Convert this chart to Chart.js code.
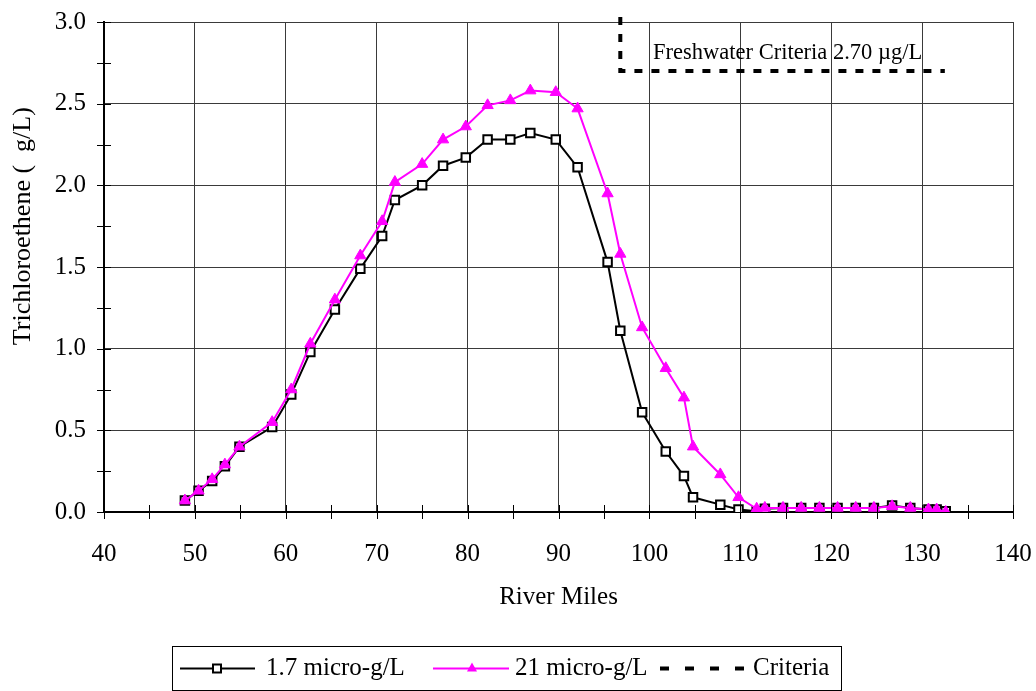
<!DOCTYPE html>
<html>
<head>
<meta charset="utf-8">
<script src="https://cdn.jsdelivr.net/npm/chart.js@4.4.1/dist/chart.umd.min.js"></script>
<style>
html,body{margin:0;padding:0;background:#fff;}
#wrap{width:1036px;height:691px;}
</style>
</head>
<body>
<div id="wrap"><canvas id="c" width="1036" height="691"></canvas></div>
<script>
// ---- data ----
const riverMiles = [48.9, 50.4, 51.9, 53.3, 54.9, 58.5, 60.6, 62.7, 65.4, 68.2, 70.6, 72.0, 75.0, 77.3, 79.8, 82.2, 84.7, 86.9, 89.7, 92.1, 95.4, 96.8, 99.2, 101.8, 103.8, 104.8, 107.8, 109.8, 111.8, 112.7, 114.7, 116.7, 118.7, 120.7, 122.7, 124.7, 126.7, 128.7, 130.7, 131.6, 132.6];
const tce17 = [0.07, 0.13, 0.19, 0.28, 0.40, 0.52, 0.72, 0.98, 1.24, 1.49, 1.69, 1.91, 2.00, 2.12, 2.17, 2.28, 2.28, 2.32, 2.28, 2.11, 1.53, 1.11, 0.61, 0.37, 0.22, 0.09, 0.045, 0.015, 0.005, 0.02, 0.025, 0.025, 0.025, 0.025, 0.025, 0.025, 0.04, 0.025, 0.015, 0.015, 0.005];
const tce21 = [0.07, 0.13, 0.20, 0.29, 0.40, 0.55, 0.75, 1.03, 1.30, 1.57, 1.78, 2.02, 2.13, 2.28, 2.36, 2.49, 2.52, 2.58, 2.57, 2.47, 1.95, 1.58, 1.13, 0.88, 0.70, 0.40, 0.23, 0.09, 0.02, 0.025, 0.025, 0.025, 0.025, 0.025, 0.025, 0.025, 0.035, 0.025, 0.015, 0.015, 0.0];
const criteriaX = [96.8, 96.8, 132.5];
const criteriaY = [3.03, 2.70, 2.70];
const seriesNames = ["1.7 micro-g/L", "21 micro-g/L", "Criteria"];
const criteriaLabel = "Freshwater Criteria 2.70 \u00b5g/L";
const xTitle = "River Miles";
const yTitle = "Trichloroethene (  g/L)";

const FONT = "'Liberation Serif', 'Times New Roman', serif";

const pts = (xs, ys) => xs.map((x, i) => ({x: x, y: ys[i]}));

const noPad = s => { s.paddingLeft = 0; s.paddingRight = 0; s.paddingTop = 0; s.paddingBottom = 0; };

const overlay = {
  id: 'overlay',
  afterDraw(chart) {
    const ctx = chart.ctx;
    const xs = chart.scales.x, ys = chart.scales.y;
    const ca = chart.chartArea;
    ctx.save();
    // crossing tick marks
    ctx.strokeStyle = '#000';
    ctx.lineWidth = 1;
    for (let v = 40; v <= 140; v += 5) {
      const px = Math.round(xs.getPixelForValue(v)) + 0.5;
      ctx.beginPath(); ctx.moveTo(px, ca.bottom - 7); ctx.lineTo(px, ca.bottom + 7); ctx.stroke();
    }
    for (let v = 0; v <= 3.0001; v += 0.25) {
      const py = Math.round(ys.getPixelForValue(v)) + 0.5;
      ctx.beginPath(); ctx.moveTo(ca.left - 7, py); ctx.lineTo(ca.left + 7, py); ctx.stroke();
    }
    // y title
    ctx.fillStyle = '#000';
    ctx.font = "26px " + FONT;
    ctx.textAlign = 'center';
    ctx.textBaseline = 'middle';
    ctx.translate(23, ys.getPixelForValue(1.75));
    ctx.rotate(-Math.PI / 2);
    ctx.fillText(yTitle, 0, 0);
    ctx.restore();

    // criteria annotation
    ctx.save();
    ctx.fillStyle = '#000';
    ctx.font = "22.5px " + FONT;
    ctx.textAlign = 'left';
    ctx.textBaseline = 'middle';
    ctx.fillText(criteriaLabel, xs.getPixelForValue(100.4), ys.getPixelForValue(2.81));
    ctx.restore();

    // legend
    ctx.save();
    const bx = 172.5, by = 646.5, bw = 669, bh = 44;
    ctx.strokeStyle = '#000'; ctx.lineWidth = 1;
    ctx.strokeRect(bx, by, bw, bh);
    const cy = by + bh / 2;
    ctx.font = "25px " + FONT;
    ctx.textBaseline = 'middle';
    ctx.textAlign = 'left';
    ctx.fillStyle = '#000';
    // item 1
    ctx.lineWidth = 2; ctx.strokeStyle = '#000';
    ctx.beginPath(); ctx.moveTo(180, cy); ctx.lineTo(255, cy); ctx.stroke();
    ctx.fillStyle = '#fff'; ctx.fillRect(213, cy - 4, 8, 8);
    ctx.strokeRect(213, cy - 4, 8, 8);
    ctx.fillStyle = '#000';
    ctx.fillText(seriesNames[0], 266, cy);
    // item 2
    ctx.strokeStyle = '#ff00ff'; ctx.fillStyle = '#ff00ff';
    ctx.beginPath(); ctx.moveTo(433, cy); ctx.lineTo(509, cy); ctx.stroke();
    ctx.beginPath(); ctx.moveTo(472, cy - 6); ctx.lineTo(477, cy + 3); ctx.lineTo(467, cy + 3); ctx.closePath(); ctx.fill();
    ctx.fillStyle = '#000';
    ctx.fillText(seriesNames[1], 515, cy);
    // item 3
    ctx.strokeStyle = '#000'; ctx.lineWidth = 4;
    ctx.setLineDash([9, 16]);
    ctx.beginPath(); ctx.moveTo(660, cy); ctx.lineTo(746, cy); ctx.stroke();
    ctx.setLineDash([]);
    ctx.fillText(seriesNames[2], 753, cy);
    ctx.restore();
  }
};

new Chart(document.getElementById('c'), {
  type: 'line',
  data: {
    datasets: [
      {
        label: seriesNames[1],
        data: pts(riverMiles, tce21),
        borderColor: '#ff00ff', backgroundColor: '#ff00ff',
        borderWidth: 2, pointStyle: 'triangle', pointRadius: 6.5,
        pointBorderWidth: 1, tension: 0, order: 0
      },
      {
        label: seriesNames[0],
        data: pts(riverMiles, tce17),
        borderColor: '#000', backgroundColor: '#fff',
        pointBackgroundColor: '#fff', pointBorderColor: '#000',
        borderWidth: 2, pointStyle: 'rect', pointRadius: 6,
        pointBorderWidth: 2, tension: 0, order: 1
      },
      {
        label: seriesNames[2],
        data: pts(criteriaX, criteriaY),
        borderColor: '#000', borderWidth: 4, borderDash: [8, 9],
        pointRadius: 0, tension: 0, clip: false, order: 2, fill: false
      }
    ]
  },
  options: {
    responsive: false,
    animation: false,
    layout: {padding: {top: 22, right: 23, left: 0, bottom: 0}},
    plugins: {legend: {display: false}, tooltip: {enabled: false}},
    scales: {
      x: {
        type: 'linear', min: 40, max: 140,
        afterFit: s => { s.height = 179; noPad(s); },
        ticks: {stepSize: 10, color: '#000', padding: 27, font: {family: FONT, size: 25}},
        grid: {color: '#3a3a3a', lineWidth: 1, drawTicks: false},
        border: {display: true, color: '#000', width: 2},
        title: {display: true, text: xTitle, color: '#000', font: {family: FONT, size: 25}, padding: {top: 0, bottom: 79}}
      },
      y: {
        min: 0, max: 3,
        afterFit: s => { s.width = 104; noPad(s); },
        ticks: {stepSize: 0.5, color: '#000', padding: 18, font: {family: FONT, size: 25},
          callback: v => Number(v).toFixed(1)},
        grid: {color: '#3a3a3a', lineWidth: 1, drawTicks: false},
        border: {display: true, color: '#000', width: 2}
      }
    }
  },
  plugins: [overlay]
});
</script>
</body>
</html>
